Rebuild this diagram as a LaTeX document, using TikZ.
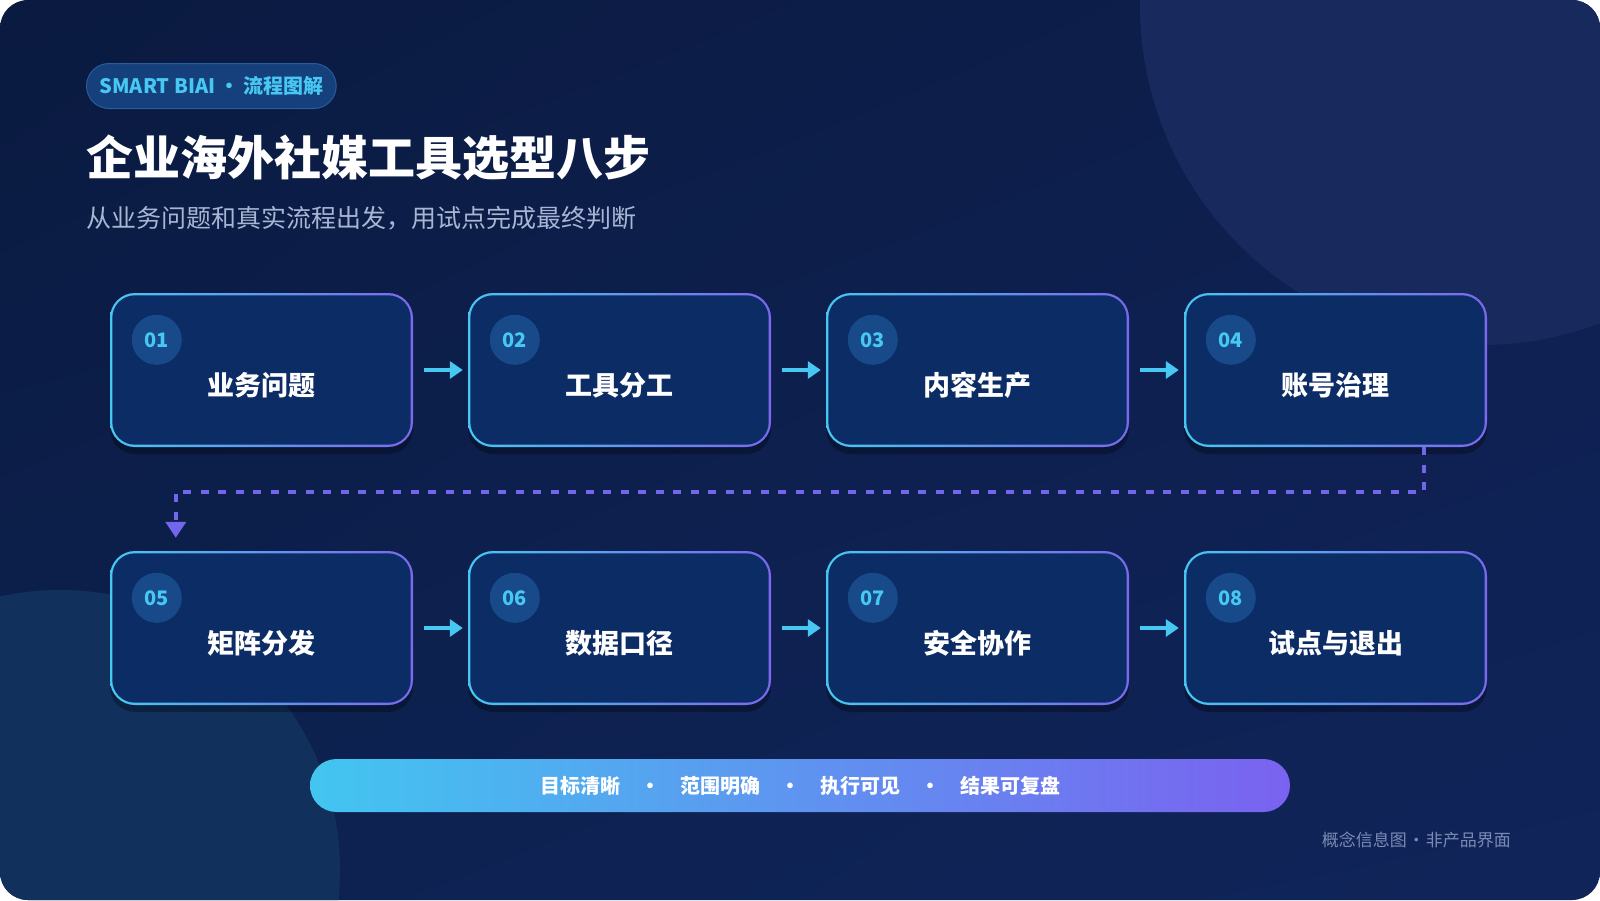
\documentclass[tikz,border=0pt]{standalone}
\usepackage{fontspec}
\setmainfont{Noto Sans CJK SC}
\usetikzlibrary{calc,shadows,arrows.meta,shadings}
\definecolor{bgA}{HTML}{0A1A40}
\definecolor{bgB}{HTML}{0E1F4E}
\definecolor{bgC}{HTML}{0D2250}
\definecolor{bgD}{HTML}{10245A}
\definecolor{circTR}{HTML}{18295E}
\definecolor{circBL}{HTML}{11305C}
\definecolor{cyanC}{HTML}{46C8F2}
\definecolor{purpC}{HTML}{7B68EE}
\definecolor{dashC}{HTML}{7466EA}
\definecolor{boxF}{HTML}{0C2C66}
\definecolor{badgeF}{HTML}{184A8A}
\definecolor{pillF}{HTML}{15407C}
\definecolor{pillD}{HTML}{285C9C}
\definecolor{subC}{HTML}{A7B6D4}
\definecolor{footC}{HTML}{7A8BB3}
\definecolor{barA}{HTML}{42C6F0}
\definecolor{barB}{HTML}{7A62F0}
\tikzset{
  stepouter/.style={rectangle, rounded corners=25pt, minimum width=303pt, minimum height=154pt,
    inner sep=0pt, left color=cyanC, right color=purpC, draw=none,
    drop shadow={shadow xshift=0pt, shadow yshift=-7pt, opacity=0.3, fill=black}},
  stepinner/.style={rectangle, rounded corners=22.6pt, minimum width=298.4pt, minimum height=149.4pt,
    inner sep=0pt, fill=boxF, draw=none},
  badge/.style={circle, minimum size=50pt, inner sep=0pt, fill=badgeF, text=cyanC,
    font=\bfseries\fontsize{20pt}{24pt}\selectfont},
  steplabel/.style={inner sep=0pt, text=white, font=\bfseries\fontsize{27pt}{32pt}\selectfont},
  flowarrow/.style={draw=cyanC, line width=4pt, -{Triangle[length=13pt,width=17pt]}},
  dashline/.style={draw=dashC, line width=3.6pt, dash pattern=on 8pt off 9.5pt,
    -{Triangle[length=16pt,width=20pt]}},
}
\begin{document}
\begin{tikzpicture}[x=1pt,y=-1pt]
\useasboundingbox (0,0) rectangle (1600,900);
\fill[white] (0,0) rectangle (1600,900);
\begin{scope}
  \path[clip, rounded corners=28pt] (0,0) rectangle (1600,900);
  \shade[upper left=bgA, upper right=bgB, lower left=bgC, lower right=bgD] (0,0) rectangle (1600,900);
  \fill[circTR] (1480,5) circle (340);
  \fill[circBL] (60,870) circle (280);
\end{scope}

% header
\node[anchor=west, rectangle, rounded corners=22.5pt, minimum height=45pt, inner xsep=13pt, inner ysep=0pt,
  fill=pillF, draw=pillD, line width=1pt, text=cyanC] (tag) at (86,86)
  {\fontsize{20pt}{24pt}\selectfont\bfseries SMART BIAI\hspace{4pt}·\hspace{4pt}流程图解};
\node[anchor=west, inner sep=0pt, text=white] (title) at (86,158)
  {\fontsize{47pt}{56pt}\selectfont\bfseries 企业海外社媒工具选型八步};
\node[anchor=west, inner sep=0pt, text=subC] (sub) at (86,218)
  {\fontsize{25pt}{30pt}\selectfont 从业务问题和真实流程出发，用试点完成最终判断};

% steps
\foreach \i/\x/\y/\t in {1/261.5/370/业务问题, 2/619.5/370/工具分工, 3/977.5/370/内容生产, 4/1335.5/370/账号治理,
                         5/261.5/628/矩阵分发, 6/619.5/628/数据口径, 7/977.5/628/安全协作, 8/1335.5/628/试点与退出}{
  \node[stepouter] (n\i) at (\x,\y) {};
  \node[stepinner] (in\i) at (n\i.center) {};
  \node[badge] (b\i) at ($(n\i.north west)+(47,47)$) {0\i};
  \node[steplabel] (l\i) at ($(n\i.center)+(0,15)$) {\t};
}

\foreach \a/\b in {1/2,2/3,3/4,5/6,6/7,7/8}{
  \draw[flowarrow] ($(n\a.east)+(11,0)$) -- ($(n\b.west)+(-5,0)$);
}

% dashed connector from 04 to 05
\coordinate (turnR) at ($(n4.south west)+(240,45)$);
\coordinate (turnL) at ($(n5.north west)+(66,-60)$);
\draw[dashline] ($(n4.south west)+(240,0)$) -- (turnR) -- (turnR -| turnL) -- ($(n5.north west)+(66,-13)$);

% bottom bar
\node[rectangle, rounded corners=26.5pt, minimum width=980pt, minimum height=53pt, inner sep=0pt,
  left color=barA, right color=barB, draw=none, text=white] (bar) at (800,785.5)
  {\fontsize{20pt}{24pt}\selectfont\bfseries 目标清晰\hspace{20pt}·\hspace{20pt}范围明确\hspace{20pt}·\hspace{20pt}执行可见\hspace{20pt}·\hspace{20pt}结果可复盘};

\node[anchor=east, inner sep=0pt, text=footC] (foot) at (1511,840)
  {\fontsize{17pt}{20pt}\selectfont 概念信息图\hspace{1pt}·\hspace{1pt}非产品界面};
\end{tikzpicture}
\end{document}
